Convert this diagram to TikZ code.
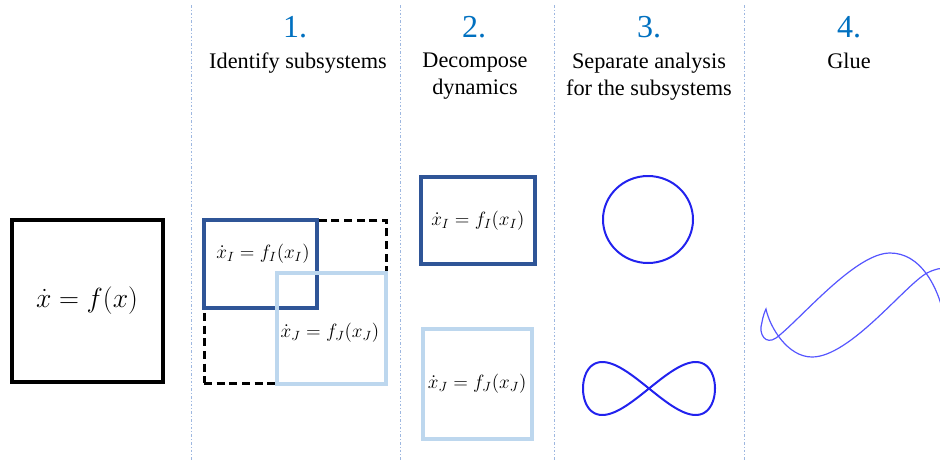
\documentclass[tikz,border=0pt]{standalone}
\usepackage[no-math]{fontspec}
\setmainfont{Liberation Serif}
\usepackage{amsmath}
\definecolor{darkbox}{HTML}{2F5597}
\definecolor{lightbox}{HTML}{BDD7EE}
\definecolor{stepblue}{HTML}{0070C0}
\definecolor{sepblue}{HTML}{9DB7E0}
\definecolor{orbit}{HTML}{2222EE}
\definecolor{gluecol}{HTML}{5555FF}

\begin{document}
\begin{tikzpicture}[x=0.75pt, y=-0.75pt,
    box/.style={draw, line width=3pt, inner sep=0pt, text=black},
    boxI/.style={box, draw=darkbox},
    boxJ/.style={box, draw=lightbox},
    eqn/.style={font=\fontsize{14.6}{17}\selectfont, inner sep=0pt},
    stepnum/.style={text=stepblue, font=\fontsize{24}{28}\selectfont, inner sep=0pt},
    title/.style={align=center, font=\fontsize{16.7}{20}\selectfont, inner sep=0pt}]
    \useasboundingbox (0,0) rectangle (940,462);

    % Separators between the steps
    \foreach \x in {191,400,554,744} \draw[sepblue, line width=0.75pt, dash pattern=on 2pt off 1.5pt on 0.75pt off 1.5pt] (\x,5) -- (\x,462);

    % Step headings
    \node[stepnum] (n1) at (295,27) {1.};
    \node[stepnum] (n2) at (474,27) {2.};
    \node[stepnum] (n3) at (649,27) {3.};
    \node[stepnum] (n4) at (849,27) {4.};
    \node[title, anchor=north] (t1) at (298,53) {Identify subsystems};
    \node[title, anchor=north] (t2) at (475,53) {Decompose\\dynamics};
    \node[title, anchor=north] (t3) at (649,53) {Separate analysis\\for the subsystems};
    \node[title, anchor=north] (t4) at (849,53) {Glue};

    % Full system
    \node[box, minimum width=113.25pt, minimum height=121.1pt, font=\fontsize{21}{25}\selectfont] (full) at (87,301) {$\dot{x} = f(x)$};

    % Step 1: overlapping subsystems
    \node[draw, line width=2.25pt, dash pattern=on 6pt off 3.5pt, minimum width=136.7pt, minimum height=122.5pt, inner sep=0pt] (whole) at (295.2,301.7) {};
    \node[boxI, minimum width=84.75pt, minimum height=66pt] (subI) at (260.5,264) {};
    \node[boxJ, minimum width=81.5pt, minimum height=82.9pt] (subJ) at (331.5,328.5) {};
    \node[eqn] (eqI) at (263,254) {$\dot{x}_I = f_I(x_I)$};
    \node[eqn] (eqJ) at (330,333) {$\dot{x}_J = f_J(x_J)$};

    % Step 2: decomposed subsystems
    \node[boxI, minimum width=84.9pt, minimum height=65.1pt, font=\fontsize{14.6}{17}\selectfont] (decI) at (477.9,220.4) {$\dot{x}_I = f_I(x_I)$};
    \node[boxJ, minimum width=81.7pt, minimum height=82.8pt, font=\fontsize{14.6}{17}\selectfont] (decJ) at (477.2,384) {$\dot{x}_J = f_J(x_J)$};

    % Step 3: separate orbits
    \draw[orbit, line width=1.5pt] (648,219.5) ellipse [x radius=45, y radius=43.5];
    \draw[orbit, line width=1.5pt] plot[domain=0:360, samples=120, smooth cycle] ({649+66*cos(\x)}, {388.5+53*sin(\x)*cos(\x)});

    % Step 4: glued orbit
    \begin{scope}
        \clip (744,0) rectangle (940,462);
        \draw[gluecol, line width=0.9pt] (945,320) .. controls (938,285) and (920,253) .. (890,253)
            .. controls (855,253) and (800,320) .. (776,338)
            .. controls (766,345) and (758,335) .. (762,322)
            .. controls (763,316) and (765,311) .. (766,309)
            .. controls (770,328) and (788,357) .. (812,357)
            .. controls (850,357) and (905,285) .. (927,273)
            .. controls (935,269) and (940,268) .. (948,268);
    \end{scope}
\end{tikzpicture}
\end{document}
